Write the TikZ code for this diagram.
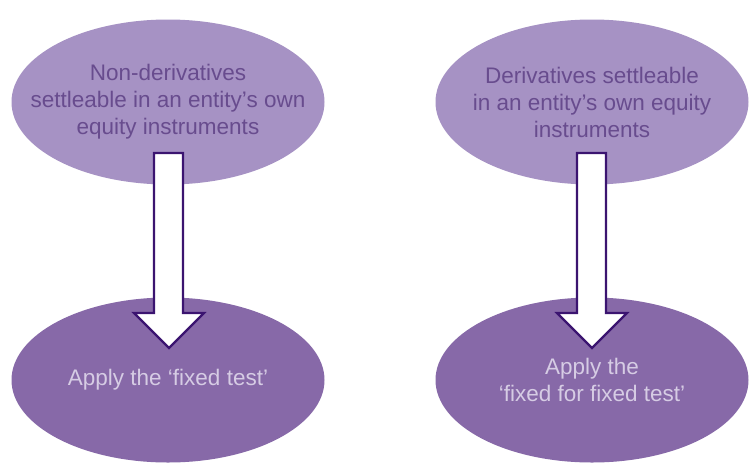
\documentclass[tikz,border=0pt]{standalone}
\usepackage{fontspec}
\setmainfont{Liberation Sans}
\usetikzlibrary{shapes.geometric}
\definecolor{topfill}{HTML}{A692C4}
\definecolor{toptext}{HTML}{684C8E}
\definecolor{botfill}{HTML}{8769A8}
\definecolor{bottext}{HTML}{D6CCE4}
\definecolor{arrowline}{HTML}{3B1470}
\tikzset{
  oval/.style={ellipse, minimum width=313pt, minimum height=165pt, inner sep=0pt},
  topoval/.style={oval, fill=topfill},
  botoval/.style={oval, fill=botfill},
  label text/.style={align=center, inner sep=0pt, font=\fontsize{22.5}{27}\selectfont},
  toplabel/.style={label text, text=toptext},
  botlabel/.style={label text, text=bottext},
  blockarrow/.style={draw=arrowline, fill=white, line width=2.2pt, line join=miter}
}
\begin{document}
\begin{tikzpicture}[x=1pt,y=-1pt]
\useasboundingbox[fill=white] (0,0) rectangle (750,467);
\node[topoval] (t1) at (168,102) {};
\node[topoval] (t2) at (592,102) {};
\node[botoval] (b1) at (168,380) {};
\node[botoval] (b2) at (592,380) {};
\node[toplabel] (t1l) at (t1.center) {Non-derivatives\\settleable in an entity’s own\\equity instruments};
\node[toplabel] (t2l) at (t2.center) {Derivatives settleable\\in an entity’s own equity\\instruments};
\node[botlabel] (b1l) at (b1.center) {Apply the ‘fixed test’};
\node[botlabel] (b2l) at (b2.center) {Apply the\\‘fixed for fixed test’};
% block arrows
\draw[blockarrow] (154,153) -- (183,153) -- (183,313) -- (204,313) -- (169,348) -- (134,313) -- (154,313) -- cycle;
\draw[blockarrow] (577,153) -- (606,153) -- (606,313) -- (627,313) -- (592,348) -- (557,313) -- (577,313) -- cycle;
\end{tikzpicture}
\end{document}
